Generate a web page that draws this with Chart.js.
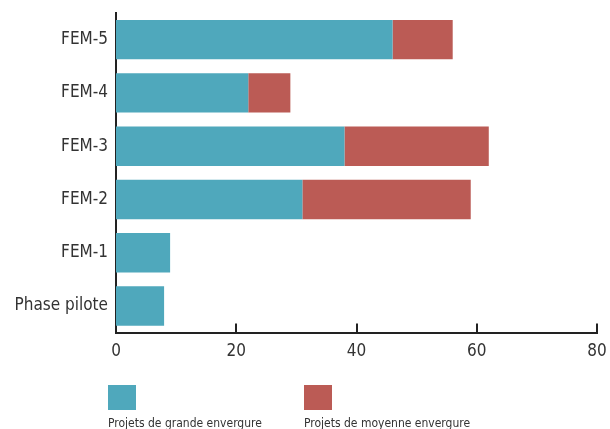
<!DOCTYPE html>
<html>
<head>
<meta charset="utf-8">
<script src="https://cdn.jsdelivr.net/npm/chart.js@4.4.0/dist/chart.umd.min.js"></script>
<style>
  html, body { margin: 0; padding: 0; background: #fff; }
  #wrap { width: 610px; height: 429px; position: relative; }
</style>
</head>
<body>
<div id="wrap"><canvas id="femChart" width="610" height="429"></canvas></div>
<script>
const categories = ['FEM-5', 'FEM-4', 'FEM-3', 'FEM-2', 'FEM-1', 'Phase pilote'];
const grandeEnvergure = [46, 22, 38, 31, 9, 8];
const moyenneEnvergure = [10, 7, 24, 28, 0, 0];
const xTicks = [0, 20, 40, 60, 80];

const FONT = '"Liberation Sans Narrow", "DejaVu Sans Condensed", "Roboto", sans-serif';
const AXIS = '#222';

// petits traits de graduation vers le haut + legende sous le graphique
const customDraw = {
    id: 'customDraw',
    afterDraw(chart) {
        const ctx = chart.ctx;
        const x = chart.scales.x;
        const bottom = chart.chartArea.bottom;
        ctx.save();
        ctx.strokeStyle = AXIS;
        ctx.lineWidth = 2;
        x.ticks.forEach((t, i) => {
            if (i === 0) return;
            const px = Math.round(x.getPixelForTick(i));
            ctx.beginPath();
            ctx.moveTo(px, bottom);
            ctx.lineTo(px, bottom - 9);
            ctx.stroke();
        });

        const legendX = [108, 304];
        chart.data.datasets.forEach((ds, i) => {
            ctx.fillStyle = ds.backgroundColor;
            ctx.fillRect(legendX[i], 385, 28, 25);
            ctx.fillStyle = '#333';
            ctx.font = '12px ' + FONT;
            ctx.textBaseline = 'alphabetic';
            ctx.fillText(ds.label, legendX[i], 427);
        });
        ctx.restore();
    }
};

new Chart(document.getElementById('femChart'), {
    type: 'bar',
    data: {
        labels: categories,
        datasets: [
            {
                label: 'Projets de grande envergure',
                data: grandeEnvergure,
                backgroundColor: '#4fa8bc'
            },
            {
                label: 'Projets de moyenne envergure',
                data: moyenneEnvergure,
                backgroundColor: '#bb5b55'
            }
        ]
    },
    options: {
        indexAxis: 'y',
        responsive: false,
        animation: false,
        layout: { padding: { top: 13, right: 13, bottom: 58, left: 0 } },
        categoryPercentage: 0.74,
        barPercentage: 1,
        plugins: {
            legend: { display: false },
            tooltip: { enabled: false }
        },
        scales: {
            x: {
                stacked: true,
                min: 0,
                max: 80,
                afterBuildTicks(scale) {
                    scale.ticks = xTicks.map(v => ({ value: v }));
                },
                afterFit(scale) {
                    scale.paddingLeft = 0;
                    scale.paddingRight = 0;
                },
                grid: { display: false, drawTicks: false },
                border: { display: true, color: AXIS, width: 2 },
                ticks: {
                    color: '#333',
                    padding: 9,
                    font: { family: FONT, size: 17 }
                }
            },
            y: {
                stacked: true,
                afterFit(scale) {
                    scale.width = 116;
                    scale.paddingTop = 0;
                    scale.paddingBottom = 0;
                },
                grid: { display: false, drawTicks: false },
                border: { display: true, color: AXIS, width: 2 },
                ticks: {
                    color: '#333',
                    padding: 8,
                    font: { family: FONT, size: 17 }
                }
            }
        }
    },
    plugins: [customDraw]
});
</script>
</body>
</html>
